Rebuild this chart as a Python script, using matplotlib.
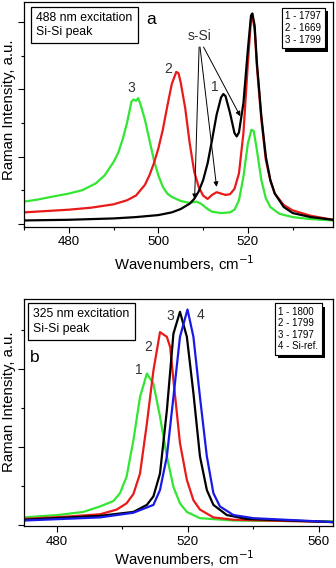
import matplotlib
matplotlib.use("Agg")
import matplotlib.pyplot as plt
from matplotlib.ticker import MultipleLocator, NullFormatter
from matplotlib import patheffects as pe

plt.rcParams['font.family'] = ['Liberation Sans', 'DejaVu Sans']

# ---------------- Panel a data (488 nm) ----------------
a1_x = [470, 480, 490, 495, 500, 503, 505, 507, 508, 509, 510, 511, 512, 513, 514, 514.5, 515, 516, 517,
        517.5, 518, 519, 520, 520.7, 521, 521.5, 522, 523, 524, 525, 526, 528, 530, 534, 539]
a1_y = [0.05, 0.06, 0.08, 0.10, 0.13, 0.17, 0.22, 0.30, 0.37, 0.48, 0.65, 0.90, 1.25, 1.62, 1.88, 1.93, 1.90,
        1.65, 1.35, 1.30, 1.36, 1.80, 2.60, 3.10, 3.13, 2.95, 2.40, 1.60, 1.00, 0.65, 0.45, 0.25, 0.16, 0.10, 0.06]

a2_x = [470, 475, 480, 485, 490, 493, 495, 497, 498, 499, 500, 501, 502, 503, 504, 504.5, 505, 506, 507, 508,
        509, 510, 511, 512, 513, 514, 515, 516, 517, 518, 519, 520, 520.7, 521, 521.5, 522, 523, 524, 525,
        526, 528, 530, 534, 539]
a2_y = [0.17, 0.19, 0.21, 0.24, 0.29, 0.35, 0.42, 0.58, 0.72, 0.90, 1.12, 1.40, 1.75, 2.08, 2.26, 2.24, 2.10,
        1.72, 1.20, 0.78, 0.55, 0.42, 0.37, 0.43, 0.47, 0.45, 0.43, 0.44, 0.52, 0.75, 1.35, 2.40, 3.05, 3.08,
        2.90, 2.35, 1.55, 0.95, 0.65, 0.45, 0.28, 0.20, 0.12, 0.06]

a3_x = [470, 473, 476, 480, 483, 486, 488, 490, 491, 492, 493, 494, 494.5, 495, 495.5, 496, 497, 498, 499, 500,
        501, 502, 503, 505, 507, 508.5, 509.5, 511, 512, 514, 516, 517, 518, 519, 520, 520.8, 521.3, 522,
        523, 524, 525, 527, 530, 534, 539]
a3_y = [0.33, 0.36, 0.40, 0.45, 0.50, 0.60, 0.72, 0.92, 1.05, 1.25, 1.50, 1.82, 1.85, 1.83, 1.87, 1.78, 1.55,
        1.25, 0.95, 0.72, 0.55, 0.45, 0.40, 0.34, 0.31, 0.33, 0.30, 0.22, 0.18, 0.16, 0.17, 0.21, 0.35, 0.70,
        1.20, 1.40, 1.38, 1.10, 0.65, 0.38, 0.25, 0.15, 0.10, 0.07, 0.05]

a_legend = ["1 - 1797", "2 - 1669", "3 - 1799"]

# ---------------- Panel b data (325 nm) ----------------
b1_x = [470, 480.2, 488.1, 493.2, 497.3, 499.3, 501.3, 503.4, 505.4, 507.5, 509.5, 511.5, 513.6, 515.6, 517.6,
        519.7, 523.7, 533.9, 564.3]
b1_y = [0.10, 0.13, 0.17, 0.24, 0.31, 0.41, 0.62, 1.09, 1.64, 1.94, 1.81, 1.39, 0.88, 0.49, 0.28, 0.17, 0.09,
        0.06, 0.05]

b2_x = [470, 483, 493.2, 498.3, 501.3, 503.4, 505.4, 507.5, 509.5, 511.5, 513.6, 514.6, 515.6, 517.6, 519.7,
        521.7, 523.7, 527.8, 533.9, 544.1, 564.3]
b2_y = [0.08, 0.11, 0.14, 0.20, 0.28, 0.40, 0.66, 1.30, 1.98, 2.47, 2.41, 2.28, 1.86, 1.05, 0.58, 0.32, 0.20,
        0.10, 0.07, 0.06, 0.04]

b3_x = [470, 493.2, 503.4, 507.5, 509.5, 511.5, 513.6, 515.6, 517.6, 519.7, 521.7, 523.7, 525.8, 527.8, 531.9,
        538, 564.3]
b3_y = [0.07, 0.12, 0.17, 0.26, 0.37, 0.66, 1.47, 2.45, 2.73, 2.41, 1.69, 0.88, 0.45, 0.26, 0.13, 0.08, 0.04]

b4_x = [470, 493.2, 503.4, 509.5, 511.5, 513.6, 515.6, 517.6, 519.9, 521.7, 523.7, 525.8, 527.8, 529.8, 533.9,
        540, 564.3]
b4_y = [0.06, 0.10, 0.16, 0.26, 0.45, 0.88, 1.64, 2.41, 2.76, 2.41, 1.64, 0.88, 0.41, 0.24, 0.13, 0.09, 0.04]

b_legend = ["1 - 1800", "2 - 1799", "3 - 1797", "4 - Si-ref."]

GREEN = '#33e633'
RED = '#e81a1a'
BLUE = '#1a1ae6'
BLACK = '#000000'

fig = plt.figure(figsize=(3.36, 5.68), dpi=100)
W, H = 336, 568
ax1 = fig.add_axes([24 / W, (H - 226.5) / H, 309 / W, 224.5 / H])
ax2 = fig.add_axes([24 / W, (H - 526) / H, 309 / W, 226.7 / H])

lw = 1.6
ax1.plot(a3_x, a3_y, color=GREEN, lw=lw)
ax1.plot(a2_x, a2_y, color=RED, lw=lw)
ax1.plot(a1_x, a1_y, color=BLACK, lw=lw)

ax2.plot(b1_x, b1_y, color=GREEN, lw=lw)
ax2.plot(b2_x, b2_y, color=RED, lw=lw)
ax2.plot(b3_x, b3_y, color=BLACK, lw=lw)
ax2.plot(b4_x, b4_y, color=BLUE, lw=lw)

ax1.set_xlim(470, 539)
ax1.set_ylim(-0.04, 3.30)
ax2.set_xlim(470, 564.3)
ax2.set_ylim(-0.01, 2.89)

ax1.xaxis.set_major_locator(MultipleLocator(20))
ax1.xaxis.set_minor_locator(MultipleLocator(10))
ax2.xaxis.set_major_locator(MultipleLocator(40))
ax2.xaxis.set_minor_locator(MultipleLocator(20))
for ax in (ax1, ax2):
    ax.yaxis.set_major_locator(MultipleLocator(1))
    ax.yaxis.set_minor_locator(MultipleLocator(0.5))
    ax.yaxis.set_major_formatter(NullFormatter())
    ax.tick_params(which='major', direction='out', length=4, width=0.8, labelsize=9.5, pad=3)
    ax.tick_params(which='minor', direction='out', length=2.5, width=0.8)
    for s in ax.spines.values():
        s.set_linewidth(0.9)
    ax.set_xlabel('Wavenumbers, cm$^{-1}$', fontsize=10.7, va='baseline')
    ax.set_ylabel('Raman Intensity, a.u.', fontsize=10.8)

ax1.xaxis.set_label_coords(0.52, -(270 - 226.5) / 224.5)
ax2.xaxis.set_label_coords(0.52, -(565 - 526) / 226.7)
ax1.yaxis.set_label_coords(-0.027, 0.52)
ax2.yaxis.set_label_coords(-0.027, 0.547)

box = dict(boxstyle='square,pad=0.42', fc='white', ec='black', lw=0.9)
ax1.text(0.04, 0.955, '488 nm excitation\nSi-Si peak', transform=ax1.transAxes, fontsize=8.8,
         va='top', ha='left', bbox=box, linespacing=1.25)
ax2.text(0.03, 0.96, '325 nm excitation\nSi-Si peak', transform=ax2.transAxes, fontsize=8.8,
         va='top', ha='left', bbox=box, linespacing=1.25)

shadow = [pe.withSimplePatchShadow(offset=(2.5, -2.5), shadow_rgbFace='black', alpha=1.0), pe.Normal()]
lbox = dict(boxstyle='square,pad=0.35', fc='white', ec='black', lw=0.8)
t1 = ax1.text(0.845, 0.958, "\n".join(a_legend), transform=ax1.transAxes, fontsize=7, va='top', ha='left',
              bbox=lbox, linespacing=1.2)
t1.get_bbox_patch().set_path_effects(shadow)
t2 = ax2.text(0.823, 0.968, "\n".join(b_legend), transform=ax2.transAxes, fontsize=7, va='top', ha='left',
              bbox=lbox, linespacing=1.2)
t2.get_bbox_patch().set_path_effects(shadow)

# panel letters and curve labels
ax1.text(498.3, 3.04, 'a', fontsize=12.5, ha='center', va='center')
ax2.text(473.4, 2.14, 'b', fontsize=12.5, ha='center', va='center')

c_lab = '#333333'
ax1.text(494.0, 2.02, '3', fontsize=10, ha='center', va='center', color=c_lab)
ax1.text(502.1, 2.31, '2', fontsize=10, ha='center', va='center', color=c_lab)
ax1.text(512.6, 2.03, '1', fontsize=10, ha='center', va='center', color=c_lab)
ax1.text(509.2, 2.80, 's-Si', fontsize=10, ha='center', va='center', color=c_lab)

ap = dict(arrowstyle='-|>', lw=0.7, color='black', mutation_scale=7, shrinkA=0, shrinkB=0)
ax1.annotate('', xy=(508.1, 0.37), xytext=(509.1, 2.63), arrowprops=ap)
ax1.annotate('', xy=(513.0, 0.55), xytext=(509.3, 2.63), arrowprops=ap)
ax1.annotate('', xy=(518.3, 1.60), xytext=(510.1, 2.63), arrowprops=ap)

ax2.text(504.9, 1.98, '1', fontsize=10, ha='center', va='center', color=c_lab)
ax2.text(508.0, 2.28, '2', fontsize=10, ha='center', va='center', color=c_lab)
ax2.text(514.6, 2.67, '3', fontsize=10, ha='center', va='center', color=c_lab)
ax2.text(523.9, 2.69, '4', fontsize=10, ha='center', va='center', color=c_lab)

fig.savefig('out.png', dpi=100)
